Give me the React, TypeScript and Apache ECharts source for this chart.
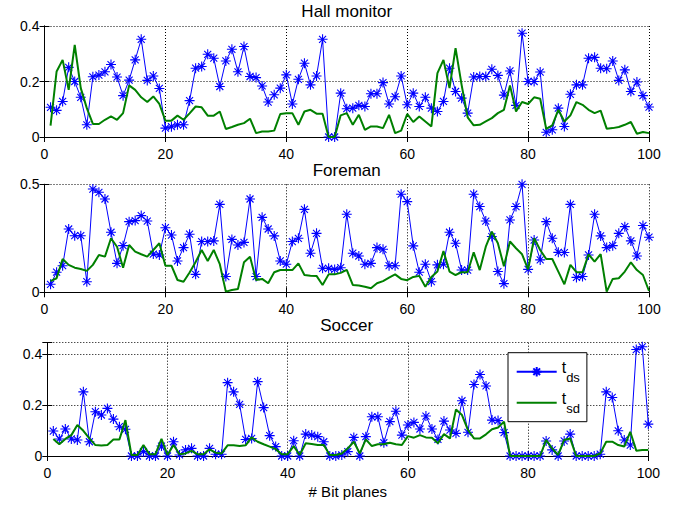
import React, { useEffect, useRef } from "react";
import * as echarts from "echarts";

const xTicks = [0, 20, 40, 60, 80, 100];
const titles = ["Hall monitor", "Foreman", "Soccer"];
const xLabel = "# Bit planes";

const hallTds = [0.107, 0.096, 0.128, 0.251, 0.2, 0.143, 0.044, 0.217, 0.223, 0.235, 0.261, 0.216, 0.149, 0.205, 0.278, 0.352, 0.204, 0.22, 0.175, 0.032, 0.037, 0.044, 0.044, 0.131, 0.248, 0.254, 0.298, 0.284, 0.182, 0.274, 0.316, 0.235, 0.326, 0.218, 0.214, 0.184, 0.126, 0.152, 0.176, 0.224, 0.119, 0.208, 0.266, 0.188, 0.22, 0.352, 0, 0, 0.158, 0.102, 0.104, 0.114, 0.11, 0.156, 0.156, 0.196, 0.119, 0.145, 0.22, 0.116, 0.158, 0.11, 0.143, 0.104, 0.092, 0.128, 0.248, 0.164, 0.14, 0.086, 0.216, 0.218, 0.218, 0.244, 0.222, 0.151, 0.238, 0.114, 0.374, 0.2, 0.2, 0.234, 0.017, 0.026, 0.104, 0.038, 0.154, 0.188, 0.188, 0.284, 0.287, 0.248, 0.246, 0.274, 0.204, 0.242, 0.164, 0.198, 0.149, 0.108];
const hallTsd = [0.041, 0.236, 0.278, 0.17, 0.332, 0.176, 0.104, 0.047, 0.047, 0.062, 0.074, 0.062, 0.086, 0.186, 0.17, 0.143, 0.126, 0.146, 0.119, 0.059, 0.059, 0.077, 0.062, 0.085, 0.11, 0.107, 0.077, 0.077, 0.092, 0.029, 0.036, 0.044, 0.05, 0.066, 0.014, 0.02, 0.02, 0.023, 0.083, 0.086, 0.086, 0.044, 0.092, 0.098, 0.084, 0.084, 0, 0, 0.078, 0.086, 0.044, 0.08, 0.026, 0.038, 0.038, 0.032, 0.08, 0.014, 0.023, 0.083, 0.054, 0.074, 0.056, 0.038, 0.23, 0.278, 0.176, 0.32, 0.188, 0.071, 0.042, 0.044, 0.056, 0.068, 0.086, 0.098, 0.186, 0.092, 0.126, 0.119, 0.143, 0.138, 0.029, 0.042, 0.098, 0.056, 0.078, 0.126, 0.116, 0.098, 0.086, 0.095, 0.03, 0.032, 0.036, 0.044, 0.054, 0.012, 0.018, 0.014];
const foremanTds = [0.037, 0.093, 0.123, 0.293, 0.262, 0.262, 0.049, 0.478, 0.463, 0.432, 0.278, 0.134, 0.216, 0.327, 0.332, 0.355, 0.33, 0.177, 0.173, 0.299, 0.265, 0.145, 0.207, 0.269, 0.083, 0.235, 0.235, 0.238, 0.407, 0.073, 0.245, 0.219, 0.231, 0.432, 0.073, 0.347, 0.293, 0.261, 0.145, 0.13, 0.235, 0.25, 0.384, 0.181, 0.273, 0.111, 0.111, 0.106, 0.114, 0.361, 0.181, 0.168, 0.13, 0.134, 0.207, 0.199, 0.123, 0.123, 0.454, 0.42, 0.215, 0.093, 0.13, 0.049, 0.127, 0.13, 0.278, 0.227, 0.103, 0.103, 0.454, 0.397, 0.33, 0.258, 0.096, 0.04, 0.335, 0.397, 0.5, 0.106, 0.242, 0.15, 0.327, 0.25, 0.185, 0.184, 0.407, 0.069, 0.073, 0.173, 0.361, 0.261, 0.207, 0.216, 0.273, 0.304, 0.238, 0.168, 0.309, 0.255];
const foremanTsd = [0.052, 0.065, 0.154, 0.127, 0.114, 0.108, 0.099, 0.127, 0.173, 0.165, 0.25, 0.211, 0.114, 0.219, 0.188, 0.176, 0.165, 0.196, 0.227, 0.123, 0.123, 0.057, 0.049, 0.092, 0.14, 0.196, 0.145, 0.196, 0.13, 0.003, 0.011, 0.015, 0.139, 0.165, 0.057, 0.062, 0.042, 0.093, 0.103, 0.103, 0.103, 0.134, 0.08, 0.077, 0.076, 0.034, 0.083, 0.083, 0.09, 0.104, 0.034, 0.031, 0.026, 0.019, 0.042, 0.052, 0.068, 0.083, 0.062, 0.056, 0.071, 0.076, 0.026, 0.071, 0.096, 0.191, 0.096, 0.08, 0.093, 0.093, 0.185, 0.103, 0.211, 0.281, 0.227, 0.121, 0.235, 0.204, 0.176, 0.106, 0.25, 0.196, 0.154, 0.154, 0.096, 0.037, 0.127, 0.093, 0.093, 0.176, 0.142, 0.177, 0.003, 0.062, 0.065, 0.096, 0.139, 0.103, 0.08, 0.006];
const soccerTds = [0.098, 0.067, 0.106, 0.067, 0.063, 0.252, 0.056, 0.174, 0.161, 0.187, 0.145, 0.115, 0.105, 0, 0, 0.017, 0, 0, 0.039, 0, 0.056, 0.004, 0.024, 0.03, 0, 0, 0.03, 0.007, 0.007, 0.288, 0.252, 0.203, 0.065, 0.069, 0.292, 0.19, 0.08, 0.037, 0, 0, 0.06, 0, 0.086, 0.082, 0.076, 0.056, 0, 0, 0.004, 0.017, 0.073, 0, 0.076, 0.154, 0.154, 0.052, 0.135, 0.176, 0.082, 0.122, 0.132, 0.106, 0.157, 0.106, 0.065, 0.137, 0.102, 0.089, 0.217, 0.093, 0.281, 0.32, 0.275, 0.141, 0.139, 0.092, 0, 0, 0, 0, 0, 0, 0.059, 0.024, 0, 0.059, 0.086, 0, 0, 0, 0, 0.007, 0.252, 0.23, 0.099, 0.063, 0.043, 0.418, 0.429, 0.125];
const soccerTsd = [0.067, 0.046, 0.067, 0.082, 0.122, 0.099, 0.069, 0.043, 0.041, 0.043, 0.065, 0.065, 0.141, 0.004, 0.004, 0.043, 0.007, 0.007, 0.067, 0.004, 0.043, 0.007, 0.01, 0.02, 0.007, 0.007, 0.026, 0.013, 0.01, 0.042, 0.042, 0.039, 0.042, 0.073, 0.056, 0.046, 0.037, 0.027, 0.007, 0.007, 0.039, 0.004, 0.05, 0.047, 0.043, 0.043, 0.004, 0.004, 0.01, 0.03, 0.056, 0.01, 0.065, 0.039, 0.046, 0.046, 0.052, 0.046, 0.043, 0.078, 0.072, 0.082, 0.073, 0.072, 0.05, 0.086, 0.069, 0.183, 0.161, 0.102, 0.069, 0.069, 0.085, 0.105, 0.112, 0.135, 0, 0, 0, 0, 0, 0, 0.063, 0.03, 0.004, 0.063, 0.069, 0, 0, 0, 0, 0.01, 0.056, 0.056, 0.043, 0.037, 0.095, 0.021, 0.024, 0.024];

const yMax = [0.4, 0.5, 0.445];
const yInterval = [0.2, 0.5, 0.2];

const FONT = "'Liberation Sans', Arial, sans-serif";
const STAR = "path://M5,0L5,10M0,5L10,5M1.5,1.5L8.5,8.5M1.5,8.5L8.5,1.5";

export default function App() {
  const ref = useRef<HTMLDivElement>(null);
  useEffect(() => {
    if (!ref.current) return;
    const chart = echarts.init(ref.current, undefined, { renderer: "svg" });
    const grids = [
      { left: 44.5, top: 26, width: 604.5, height: 111 },
      { left: 44.5, top: 184.3, width: 604.5, height: 108 },
      { left: 47.3, top: 342.7, width: 601, height: 113.3 },
    ];
    const pairs = (arr: number[]) => arr.map((v, i) => [i + 1, v]);
    const tdsSets = [hallTds, foremanTds, soccerTds];
    const tsdSets = [hallTsd, foremanTsd, soccerTsd];
    const xAxes: any[] = [];
    const yAxes: any[] = [];
    const series: any[] = [];
    const lineCol = "#000";
    grids.forEach((g, k) => {
      const common = {
        type: "value",
        gridIndex: k,
        min: 0,
        max: 100,
        interval: 20,
        axisLine: { show: true, lineStyle: { color: lineCol, width: 1 } },
        axisTick: { show: true, inside: true, length: 5, lineStyle: { color: lineCol } },
      };
      xAxes.push({
        ...common,
        position: "bottom",
        axisLabel: { show: true, margin: 10, color: "#000", fontSize: 14, fontFamily: FONT, formatter: (v: number) => (xTicks.includes(v) ? String(v) : "") },
        splitLine: { show: true, lineStyle: { color: "#000", type: [1, 2], width: 1 } },
        ...(k === 2
          ? { name: xLabel, nameLocation: "middle", nameGap: 28, nameTextStyle: { color: "#000", fontSize: 15, fontFamily: FONT } }
          : {}),
      });
      xAxes.push({ ...common, position: "top", axisLabel: { show: false }, splitLine: { show: false } });
      const ycommon = {
        type: "value",
        gridIndex: k,
        min: 0,
        max: yMax[k],
        interval: yInterval[k],
        axisLine: { show: true, lineStyle: { color: lineCol, width: 1 } },
        axisTick: { show: true, inside: true, length: 5, lineStyle: { color: lineCol } },
      };
      const step = yInterval[k];
      yAxes.push({
        ...ycommon,
        position: "left",
        axisLabel: {
          show: true,
          margin: 5,
          color: "#000",
          fontSize: 14,
          fontFamily: FONT,
          formatter: (v: number) => (Math.abs(v / step - Math.round(v / step)) < 1e-6 ? String(Math.round(v * 10) / 10) : ""),
        },
        splitLine: { show: true, lineStyle: { color: "#000", type: [1, 2], width: 1 } },
      });
      yAxes.push({ ...ycommon, position: "right", axisLabel: { show: false }, splitLine: { show: false } });
      series.push({
        name: "tds",
        type: "line",
        xAxisIndex: 2 * k,
        yAxisIndex: 2 * k,
        data: pairs(tdsSets[k]),
        symbol: STAR,
        symbolSize: 10,
        showSymbol: true,
        lineStyle: { color: "#0000ff", width: 1 },
        itemStyle: { color: "#0000ff", borderColor: "#0000ff", borderWidth: 1.1 },
        z: 2,
      });
      series.push({
        name: "tsd",
        type: "line",
        xAxisIndex: 2 * k,
        yAxisIndex: 2 * k,
        data: pairs(tsdSets[k]),
        symbol: "none",
        lineStyle: { color: "#008000", width: 2 },
        itemStyle: { color: "#008000" },
        z: 3,
      });
    });
    const titleTops = [3, 162, 317];
    chart.setOption({
      animation: false,
      backgroundColor: "#fff",
      title: titles.map((t, k) => ({
        text: t,
        left: 346.7,
        textAlign: "center",
        top: titleTops[k],
        padding: 0,
        textStyle: { color: "#000", fontSize: 17, fontWeight: "normal", fontFamily: FONT },
      })),
      grid: grids.map((g) => ({ ...g, containLabel: false })),
      xAxis: xAxes,
      yAxis: yAxes,
      legend: {
        data: [{ name: "tds" }, { name: "tsd", itemStyle: { opacity: 0 } }],
        orient: "vertical",
        left: 508,
        top: 352.7,
        padding: [7, 7, 7, 7.7],
        itemGap: 7,
        itemWidth: 40,
        itemHeight: 12,
        backgroundColor: "#fff",
        borderColor: "#000",
        borderWidth: 1,
        formatter: (name: string) => (name === "tds" ? "{t|t}{s|ds}" : "{t|t}{s|sd}"),
        textStyle: {
          color: "#000",
          fontFamily: FONT,
          rich: {
            t: { fontSize: 16, lineHeight: 24, verticalAlign: "top", fontFamily: FONT, color: "#000" },
            s: { fontSize: 13, verticalAlign: "bottom", fontFamily: FONT, color: "#000" },
          },
        },
      },
      series,
    });
    return () => chart.dispose();
  }, []);
  return <div ref={ref} style={{ width: 681, height: 506, position: "absolute", left: 0, top: 0 }} />;
}
